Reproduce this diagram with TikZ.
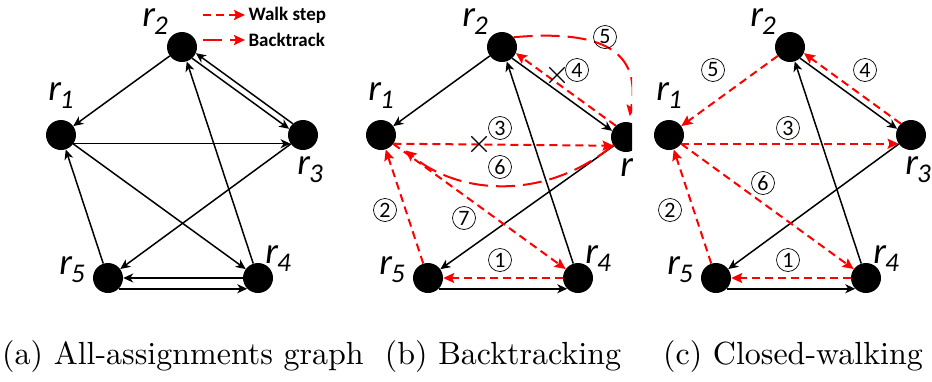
\documentclass[tikz,border=0pt]{standalone}
\usepackage{fontspec}
\newfontfamily\calfont{Carlito}
\usetikzlibrary{arrows.meta,shapes.misc}

\newcommand{\rsub}[1]{\calfont\itshape{\fontsize{37}{37}\selectfont r}\kern-1pt\raisebox{-8pt}{\fontsize{27}{27}\selectfont #1}}

\begin{document}
\begin{tikzpicture}[x=1pt, y=1pt,
    dot/.style={circle, fill=black, minimum size=30pt, inner sep=0pt},
    lab/.style={inner sep=0pt},
    edge/.style={-{Stealth[length=10pt,width=9pt,inset=3pt]}, line width=1.5pt},
    walk/.style={-{Stealth[length=11pt,width=10pt,inset=2pt]}, red, line width=2pt, dash pattern=on 8pt off 5pt},
    back/.style={walk, dash pattern=on 19pt off 8pt},
    num/.style={circle, draw, line width=0.7pt, minimum size=23pt, inner sep=0pt, font=\calfont\fontsize{22}{22}\selectfont},
    xmark/.style={cross out, draw, line width=1.4pt, minimum size=14pt, inner sep=0pt},
    legend/.style={anchor=west, font=\calfont\bfseries\fontsize{19}{19}\selectfont},
    caption/.style={inner sep=0pt}
]
\useasboundingbox (0,0) rectangle (932,-381);

% --- (a) all-assignments graph ---
\node[dot] (a1) at (61,-135)  {};
\node[dot] (a2) at (182,-47)  {};
\node[dot] (a3) at (303,-135) {};
\node[dot] (a4) at (258,-278) {};
\node[dot] (a5) at (108,-278) {};

\node[lab] (a1l) at ([shift={(0,39)}]a1)   {\rsub{1}};
\node[lab] (a2l) at ([shift={(-27,25)}]a2) {\rsub{2}};
\node[lab] (a3l) at ([shift={(7,-35)}]a3)  {\rsub{3}};
\node[lab] (a4l) at ([shift={(20,19)}]a4)  {\rsub{4}};
\node[lab] (a5l) at ([shift={(-36,8)}]a5)  {\rsub{5}};

\draw[edge] (a2) -- (a1);
\draw[edge] (a2.-48) -- (a3.156);
\draw[edge] (a3.132) -- (a2.-24);
\draw[edge] (a1.-35) -- (a3.215);
\draw[edge] (a1) -- (a4);
\draw[edge] (a3) -- (a5);
\draw[edge] (a4) -- (a2);
\draw[edge] (a5) -- (a1);
\draw[edge] (a4) -- (a5);
\draw[edge] (a5.-45) -- (a4.-135);

% --- legend ---
\node[legend] (walktxt) at (245,-15) {Walk step};
\node[legend] (backtxt) at (245,-40) {Backtrack};
\coordinate (walkfrom) at (203,-15);
\coordinate (backfrom) at (203,-40);
\draw[walk] (walkfrom) -- (walktxt.west);
\draw[back] (backfrom) -- (backtxt.west);

% --- (b) backtracking ---
\begin{scope}
\clip (340,0) rectangle (632,-381);
\begin{scope}[xshift=320pt]
\node[dot] (b1) at (61,-135)  {};
\node[dot] (b2) at (182,-47)  {};
\node[dot] (b3) at (306,-137) {};
\node[dot] (b4) at (258,-278) {};
\node[dot] (b5) at (108,-278) {};

\node[lab] (b1l) at ([shift={(0,39)}]b1)   {\rsub{1}};
\node[lab] (b2l) at ([shift={(-27,25)}]b2) {\rsub{2}};
\node[lab] (b3l) at ([shift={(7,-35)}]b3)  {\rsub{3}};
\node[lab] (b4l) at ([shift={(20,19)}]b4)  {\rsub{4}};
\node[lab] (b5l) at ([shift={(-36,8)}]b5)  {\rsub{5}};

\draw[edge] (b2) -- (b1);
\draw[edge] (b2.-48) -- (b3.156);
\draw[edge] (b4) -- (b2);
\draw[edge] (b3) -- (b5);
\draw[edge] (b5.-45) -- (b4.-135);

\draw[walk] (b4) -- (b5);
\draw[walk] (b5) -- (b1);
\draw[walk] (b1.-35) -- (b3.215);
\draw[walk] (b3.132) -- (b2.-24);
\draw[walk] (b1) -- (b4);
\draw[back, shorten >=6pt] (b2.40) to[out=5, in=80, looseness=1.4] (b3.80);
\draw[back, shorten >=14pt] (b3.212) to[out=220, in=-40] (b1.-25);

\node[xmark] (x3) at (159,-144) {};
\node[xmark] (x4) at (237,-75)  {};

\node[num] (b1n) at (180,-260) {1};
\node[num] (b2n) at (65,-210)  {2};
\node[num] (b3n) at (180,-128) {3};
\node[num] (b4n) at (257,-70)  {4};
\node[num] (b5n) at (285,-37)  {5};
\node[num] (b6n) at (180,-167) {6};
\node[num] (b7n) at (144,-218) {7};
\end{scope}
\end{scope}

% --- (c) closed-walking ---
\begin{scope}[xshift=608pt]
\node[dot] (c1) at (61,-135)  {};
\node[dot] (c2) at (182,-47)  {};
\node[dot] (c3) at (303,-135) {};
\node[dot] (c4) at (258,-278) {};
\node[dot] (c5) at (108,-278) {};

\node[lab] (c1l) at ([shift={(0,39)}]c1)   {\rsub{1}};
\node[lab] (c2l) at ([shift={(-27,25)}]c2) {\rsub{2}};
\node[lab] (c3l) at ([shift={(7,-35)}]c3)  {\rsub{3}};
\node[lab] (c4l) at ([shift={(20,19)}]c4)  {\rsub{4}};
\node[lab] (c5l) at ([shift={(-36,8)}]c5)  {\rsub{5}};

\draw[edge] (c2.-48) -- (c3.156);
\draw[edge] (c4) -- (c2);
\draw[edge] (c3) -- (c5);
\draw[edge] (c5.-45) -- (c4.-135);

\draw[walk] (c4) -- (c5);
\draw[walk] (c5) -- (c1);
\draw[walk] (c1.-35) -- (c3.215);
\draw[walk] (c3.132) -- (c2.-24);
\draw[walk] (c2) -- (c1);
\draw[walk] (c1) -- (c4);

\node[num] (c1n) at (180,-260) {1};
\node[num] (c2n) at (62,-210)  {2};
\node[num] (c3n) at (180,-128) {3};
\node[num] (c4n) at (257,-70)  {4};
\node[num] (c5n) at (105,-70)  {5};
\node[num] (c6n) at (155,-183) {6};
\end{scope}

% --- captions ---
\node[caption] (capa) at (183,-356) {\scalebox{3.2}{(a) All-assignments graph}};
\node[caption] (capb) at (503,-356) {\scalebox{3.2}{(b) Backtracking}};
\node[caption] (capc) at (793,-356) {\scalebox{3.2}{(c) Closed-walking}};

\end{tikzpicture}
\end{document}
